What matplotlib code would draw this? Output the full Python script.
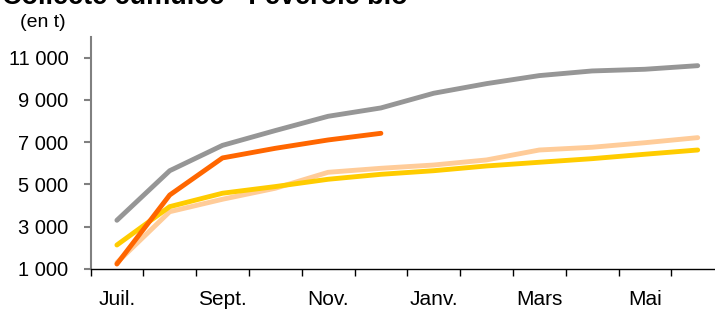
import matplotlib
matplotlib.use("Agg")
import matplotlib.pyplot as plt

plt.rcParams['font.family'] = ['Liberation Sans', 'DejaVu Sans']

months = ['Juil.', 'Août', 'Sept.', 'Oct.', 'Nov.', 'Déc.', 'Janv.', 'Févr.', 'Mars', 'Avr.', 'Mai', 'Juin']
shown_labels = ['Juil.', '', 'Sept.', '', 'Nov.', '', 'Janv.', '', 'Mars', '', 'Mai', '']

grey_vals = [3305, 5650, 6850, 7550, 8225, 8620, 9315, 9770, 10150, 10370, 10450, 10620]
peach_vals = [1300, 3710, 4300, 4820, 5575, 5765, 5920, 6160, 6630, 6760, 6975, 7215]
yellow_vals = [2135, 3950, 4585, 4900, 5245, 5480, 5650, 5875, 6050, 6220, 6430, 6630]
orange_vals = [1235, 4500, 6255, 6710, 7105, 7420]

yticks = [1000, 3000, 5000, 7000, 9000, 11000]
ytick_labels = ['1 000', '3 000', '5 000', '7 000', '9 000', '11 000']

W, H = 715, 309
fig = plt.figure(figsize=(W / 100, H / 100), dpi=100)
left, right = 90.5, 90.5 + 12 * 52.8
bottom, top = 269, 36.5
ax = fig.add_axes([left / W, (H - bottom) / H, (right - left) / W, (bottom - top) / H])

x = list(range(len(months)))
lw = 3.5
ax.plot(x, grey_vals, color='#969696', lw=lw, solid_capstyle='round', zorder=3)
ax.plot(x, peach_vals, color='#FFCC99', lw=lw, solid_capstyle='round', zorder=4)
ax.plot(x, yellow_vals, color='#FFCC00', lw=lw, solid_capstyle='round', zorder=5)
ax.plot(x[:len(orange_vals)], orange_vals, color='#FF6600', lw=lw, solid_capstyle='round', zorder=6)

ax.set_xlim(-0.5, 11.5)
ax.set_ylim(1000, 12000)

for s in ['top', 'right']:
    ax.spines[s].set_visible(False)
ax.spines['left'].set_color('#808080')
ax.spines['left'].set_linewidth(1.5)
ax.spines['bottom'].set_color('black')
ax.spines['bottom'].set_linewidth(1.0)

ax.set_yticks(yticks)
ax.set_yticklabels(ytick_labels, fontsize=14.5)
ax.tick_params(axis='y', length=5, width=1.5, color='#808080', pad=11)

ax.set_xticks([i - 0.5 for i in range(13)])
ax.set_xticklabels([])
ax.tick_params(axis='x', which='major', length=5, width=1, color='black')
ax.set_xticks(x, minor=True)
ax.set_xticklabels(shown_labels, minor=True, fontsize=15)
ax.tick_params(axis='x', which='minor', length=0, pad=15)

fig.text(2 / W, 1 - 4 / H, 'Collecte cumulée - Féverole bio', fontsize=19.5,
         fontweight='bold', ha='left', va='baseline')
fig.text(20 / W, 1 - 27 / H, '(en t)', fontsize=14, ha='left', va='baseline')

fig.savefig('out.png', dpi=100)
